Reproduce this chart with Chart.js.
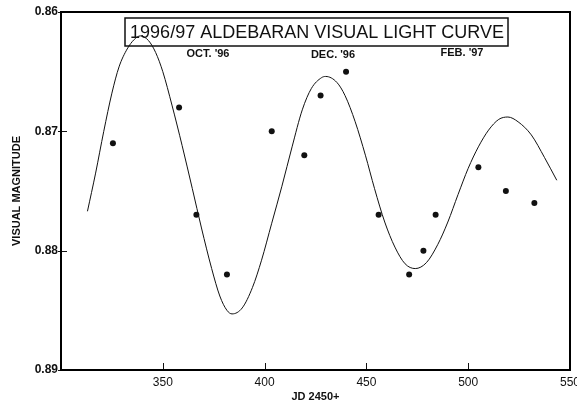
<!DOCTYPE html>
<html>
<head>
<meta charset="utf-8">
<script src="https://cdn.jsdelivr.net/npm/chart.js@4.4.1/dist/chart.umd.min.js"></script>
<style>
  html, body { margin: 0; padding: 0; background: #fff; }
</style>
</head>
<body>
<canvas id="lightCurve" width="577" height="410"></canvas>
<script>
// observations (JD 2450+ , visual magnitude)
const jdDays = [325.5, 358, 366.5, 381.5, 403.5, 419.5, 427.5, 440, 456, 471, 478, 484, 505, 518.5, 532.5];
const visualMags = [0.871, 0.868, 0.877, 0.882, 0.870, 0.872, 0.867, 0.865, 0.877, 0.882, 0.880, 0.877, 0.873, 0.875, 0.876];

// fitted curve
const fitDays = [313, 317, 321, 325, 328.5, 332.5, 336, 339, 343, 346.5, 350, 354.5, 359.5, 364.5, 369, 374, 378,
  381.5, 384, 389, 394, 398.5, 403.5, 408.5, 413.5, 418.5, 423, 428, 430, 435.5, 439.5, 444.5, 449.5, 454, 459,
  464, 469, 474, 479.5, 485, 490, 495, 500, 505, 510, 515, 519.5, 524.5, 531, 537.5, 543.5];
const fitMags = [0.8767, 0.8735, 0.8700, 0.8668, 0.8646, 0.8631, 0.8623, 0.8620, 0.8624, 0.8634, 0.8650, 0.8678, 0.8712,
  0.8748, 0.8781, 0.8815, 0.8838, 0.8850, 0.8853, 0.8848, 0.8831, 0.8808, 0.8777, 0.8746, 0.8713, 0.8682, 0.8664,
  0.8655, 0.8654, 0.8659, 0.8670, 0.8692, 0.8720, 0.8748, 0.8776, 0.8797, 0.8811, 0.8815, 0.8810, 0.8795, 0.8776,
  0.8753, 0.8731, 0.8713, 0.8699, 0.8690, 0.8688, 0.8692, 0.8703, 0.8722, 0.8741];

const xTicks = [350, 400, 450, 500, 550];
const yTicks = [0.86, 0.87, 0.88, 0.89];
const chartTitle = '1996/97 ALDEBARAN VISUAL LIGHT CURVE';
const monthLabels = ["OCT. '96", "DEC. '96", "FEB. '97"];

const FONT = '"Liberation Sans", Arial, sans-serif';
const INK = '#111';

// inward ticks, boxed title, month notes and the frame round the plot
const frameAndNotes = {
    id: 'frameAndNotes',
    afterDraw(chart) {
        const { ctx, chartArea: a, scales: { x, y } } = chart;
        ctx.save();
        ctx.strokeStyle = INK;
        ctx.lineWidth = 1;
        ctx.beginPath();
        xTicks.forEach(v => {
            const px = Math.round(x.getPixelForValue(v)) + 0.5;
            ctx.moveTo(px, a.bottom);
            ctx.lineTo(px, a.bottom - 7);
        });
        yTicks.forEach(v => {
            const py = Math.round(y.getPixelForValue(v)) + 0.5;
            ctx.moveTo(a.left - 3, py);
            ctx.lineTo(a.left + 6, py);
        });
        ctx.stroke();

        // title in a box
        ctx.lineWidth = 1.5;
        ctx.strokeRect(125, 18, 383, 28);
        ctx.fillStyle = INK;
        ctx.font = '18px ' + FONT;
        ctx.textAlign = 'center';
        ctx.textBaseline = 'middle';
        ctx.fillText(chartTitle, 317, 33);

        // months
        ctx.font = 'bold 11px ' + FONT;
        const monthPos = [[208, 54], [333, 55], [462, 53]];
        monthLabels.forEach((t, i) => ctx.fillText(t, monthPos[i][0], monthPos[i][1]));

        // frame
        ctx.strokeStyle = '#000';
        ctx.lineWidth = 2;
        ctx.beginPath();
        ctx.moveTo(a.left, a.top);
        ctx.lineTo(a.right, a.top);
        ctx.lineTo(a.right, a.bottom);
        ctx.lineTo(a.left, a.bottom);
        ctx.closePath();
        ctx.stroke();
        ctx.restore();
    }
};

var ctx = document.getElementById('lightCurve').getContext('2d');
var chart = new Chart(ctx, {
    type: 'scatter',
    data: {
        datasets: [{
            label: 'observed',
            data: jdDays.map((d, i) => ({ x: d, y: visualMags[i] })),
            showLine: false,
            pointRadius: 3,
            pointBackgroundColor: INK,
            pointBorderWidth: 0
        }, {
            label: 'fit',
            data: fitDays.map((d, i) => ({ x: d, y: fitMags[i] })),
            showLine: true,
            borderColor: INK,
            borderWidth: 1,
            pointRadius: 0,
            cubicInterpolationMode: 'monotone'
        }]
    },
    options: {
        responsive: false,
        animation: false,
        layout: { padding: { top: 12, right: 7, left: 0, bottom: 0 } },
        plugins: {
            legend: { display: false },
            tooltip: { enabled: false }
        },
        scales: {
            x: {
                type: 'linear',
                min: 300,
                max: 550,
                afterBuildTicks: s => { s.ticks = xTicks.map(v => ({ value: v })); },
                afterFit: s => { s.height = 40; s.paddingLeft = 0; s.paddingRight = 0; },
                grid: { display: false, drawTicks: false },
                border: { display: false },
                ticks: { padding: 5, color: INK, maxRotation: 0, autoSkip: false, font: { family: FONT, size: 12 } },
                title: {
                    display: true,
                    text: 'JD 2450+',
                    color: INK,
                    font: { family: FONT, size: 11, weight: 'bold' },
                    padding: { top: 0, bottom: 6 }
                }
            },
            y: {
                type: 'linear',
                reverse: true,
                min: 0.86,
                max: 0.89,
                afterBuildTicks: s => { s.ticks = yTicks.map(v => ({ value: v })); },
                afterFit: s => { s.width = 61; s.paddingTop = 0; s.paddingBottom = 0; },
                grid: { display: false, drawTicks: false },
                border: { display: false },
                ticks: {
                    padding: 3,
                    color: INK,
                    font: { family: FONT, size: 12, weight: 'bold' },
                    callback: v => v.toFixed(2)
                },
                title: {
                    display: true,
                    text: 'VISUAL MAGNITUDE',
                    color: INK,
                    font: { family: FONT, size: 11, weight: 'bold' },
                    padding: { top: 10, bottom: 0 }
                }
            }
        }
    },
    plugins: [frameAndNotes]
});
</script>
</body>
</html>
